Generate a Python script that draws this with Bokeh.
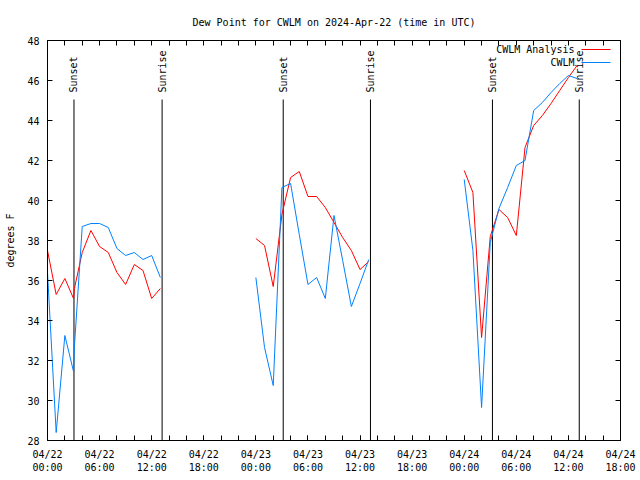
import math
from bokeh.plotting import figure
from bokeh.models import Range1d, LinearAxis, FixedTicker, Label, Arrow, ColumnDataSource
from bokeh.core.properties import value
from bokeh.embed import file_html
from bokeh.resources import INLINE

nan = float("nan")

# hours since 2024-04-22 00:00 UTC (NaN separates the gaps)
analysis_hours = [0, 1, 2, 3, 3.1, 4, 5, 6, 7, 8, 9, 10, 11, 12, 13, nan,
                  24, 25, 26, 27, 28, 29, 30, 31, 32, 33, 34, 35, 36, 37, nan,
                  48, 49, 50, 51, 52, 53, 54, 55, 56, 57, 58, 59, 60, 61]
analysis_dewpt = [37.5, 35.3, 36.1, 35.1, 35.6, 37.4, 38.5, 37.7, 37.4, 36.4, 35.8, 36.8, 36.5, 35.1, 35.6, nan,
                  38.1, 37.75, 35.7, 39.3, 41.15, 41.45, 40.2, 40.2, 39.65, 38.9, 38.15, 37.5, 36.55, 36.95, nan,
                  41.5, 40.4, 33.15, 38.2, 39.55, 39.15, 38.25, 42.65, 43.75, 44.25, 44.85, 45.5, 46.15, 46.75]

obs_hours = [0, 1, 2, 3, 3.1, 4, 5, 6, 7, 8, 9, 10, 11, 12, 13, nan,
             24, 25, 26, 27, 28, 29, 30, 31, 32, 33, 34, 35, 36, 37, nan,
             48, 49, 50, 51, 52, 53, 54, 55, 56, 57, 58, 59, 60, 61]
obs_dewpt = [36.4, 28.4, 33.25, 31.45, 32.7, 38.7, 38.85, 38.85, 38.65, 37.6, 37.25, 37.4, 37.05, 37.25, 36.15, nan,
             36.15, 32.65, 30.75, 40.65, 40.85, 38.3, 35.8, 36.15, 35.1, 39.25, 37.0, 34.7, 35.85, 37.05, nan,
             41.05, 37.5, 29.65, 37.9, 39.6, 40.65, 41.75, 42.0, 44.5, 44.9, 45.4, 45.85, 46.25, 46.1]

sun_hours = [3.05, 13.2, 27.15, 37.2, 51.25, 61.25]
sun_labels = ["Sunset", "Sunrise", "Sunset", "Sunrise", "Sunset", "Sunrise"]

x_label_ticks = list(range(0, 67, 6))
x_minor_ticks = list(range(0, 67, 2))
y_ticks = list(range(28, 49, 2))
tick_days = ["04/22", "04/23", "04/24", "04/24"]

FONT = "DejaVu Sans Mono"

p = figure(width=640, height=480, x_range=Range1d(0, 66), y_range=Range1d(28, 48),
           output_backend="svg", toolbar_location=None,
           title="Dew Point for CWLM on 2024-Apr-22 (time in UTC)",
           min_border_left=47, min_border_right=20, min_border_top=40, min_border_bottom=40)
p.background_fill_color = "white"
p.border_fill_color = "white"
p.outline_line_color = "black"
p.outline_line_width = 1
p.grid.visible = False

p.title.text_font = FONT
p.title.text_font_size = "10px"
p.title.text_font_style = "normal"
p.title.align = "center"
p.title.text_color = "black"
p.title.standoff = 26

overrides = {t: "%s\n%02d:00" % (tick_days[t // 24], t % 24) for t in x_label_ticks}

xa = p.xaxis[0]
xa.ticker = FixedTicker(ticks=x_label_ticks, minor_ticks=x_minor_ticks)
xa.major_label_overrides = overrides
ya = p.yaxis[0]
ya.ticker = FixedTicker(ticks=y_ticks)
ya.axis_label = "degrees F"
ya.axis_label_standoff = 8
ya.axis_label_text_font = FONT
ya.axis_label_text_font_size = "10px"
ya.axis_label_text_font_style = "normal"
ya.axis_label_text_color = "black"

for ax in (xa, ya):
    ax.major_tick_in = 5
    ax.major_tick_out = 0
    ax.minor_tick_in = 5
    ax.minor_tick_out = 0
    ax.axis_line_color = "black"
    ax.major_tick_line_color = "black"
    ax.minor_tick_line_color = "black"
    ax.major_label_text_font = FONT
    ax.major_label_text_font_size = "10px"
    ax.major_label_text_color = "black"
    ax.major_label_standoff = 8

# mirrored ticks on the top and right borders (minor ticks only -> no label texts)
top = LinearAxis(ticker=FixedTicker(ticks=[], minor_ticks=x_minor_ticks),
                 major_label_standoff=0, major_tick_in=0, major_tick_out=0,
                 minor_tick_in=5, minor_tick_out=0, axis_line_color="black",
                 minor_tick_line_color="black")
right = LinearAxis(ticker=FixedTicker(ticks=[], minor_ticks=y_ticks),
                   major_label_standoff=0, major_tick_in=0, major_tick_out=0,
                   minor_tick_in=5, minor_tick_out=0, axis_line_color="black",
                   minor_tick_line_color="black")
p.add_layout(top, "above")
p.add_layout(right, "right")

# sunrise / sunset markers
sun_src = ColumnDataSource(dict(x=sun_hours, y0=[28] * len(sun_hours), y1=[45.05] * len(sun_hours),
                                ty=[45.4] * len(sun_hours), label=sun_labels))
p.segment(x0="x", y0="y0", x1="x", y1="y1", source=sun_src, line_color="black", line_width=1)
p.text(x="x", y="ty", text="label", source=sun_src, angle=math.pi / 2,
       text_font=value(FONT), text_font_size="10px", text_align="left",
       text_baseline="middle", text_color="black")

RED = "#ff0000"
BLUE = "#0080ff"
p.line(analysis_hours, analysis_dewpt, line_color=RED, line_width=1)
p.line(obs_hours, obs_dewpt, line_color=BLUE, line_width=1)

# gnuplot-style key (text then sample line)
for name, col, yy in (("CWLM Analysis", RED, 47.55), ("CWLM", BLUE, 46.9)):
    p.add_layout(Label(x=60.7, y=yy, text=name, text_font=FONT, text_font_size="10px",
                       text_align="right", text_baseline="middle", text_color="black"))
    p.add_layout(Arrow(end=None, x_start=61.5, y_start=yy, x_end=64.85, y_end=yy,
                       line_color=col, line_width=1))

open("out.html", "w").write(file_html(p, INLINE))
